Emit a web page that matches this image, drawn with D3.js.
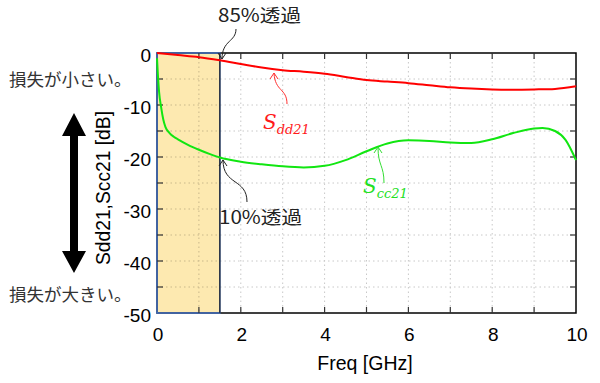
<!DOCTYPE html>
<html><head><meta charset="utf-8">
<script src="https://cdn.jsdelivr.net/npm/d3@7"></script>
<style>body{margin:0;background:#fff}svg{display:block}</style>
</head><body>
<svg id="c" width="600" height="383"></svg>
<script>
const xTicks = [0,2,4,6,8,10];
const yTicks = [0,-10,-20,-30,-40,-50];
const sddFreq = [0,0.5,1.0,1.5,2.0,2.5,3.0,3.5,4.0,4.5,5.0,5.5,6.0,6.5,7.0,7.5,8.0,8.5,9.0,9.5,10];
const sddVal  = [0,-0.4,-0.8,-1.4,-2.1,-2.8,-3.3,-3.6,-4.0,-4.6,-5.2,-5.5,-5.8,-6.2,-6.6,-6.85,-7.0,-7.05,-7.0,-6.9,-6.4];
const sccFreq = [0,0.02,0.05,0.1,0.15,0.2,0.3,0.4,0.5,0.75,1.0,1.25,1.5,2.0,2.5,3.0,3.5,4.0,4.5,5.0,5.5,6.0,6.5,7.0,7.5,8.0,8.5,9.0,9.2,9.5,9.75,10];
const sccVal  = [-1,-4,-7.5,-10.5,-12.8,-14.2,-15.4,-16.1,-16.6,-17.7,-18.6,-19.4,-20.1,-20.9,-21.4,-21.8,-22.0,-21.7,-20.6,-18.9,-17.4,-16.8,-16.9,-17.2,-17.3,-16.6,-15.4,-14.5,-14.4,-15.0,-16.7,-20.6];
const bandEnd = 1.5;

const svg = d3.select("#c");
const L=157,R=576,T=53,B=313;
const x = d3.scaleLinear().domain([0,10]).range([L,R]);
const y = d3.scaleLinear().domain([-50,0]).range([B,T]);

// grid
const g = svg.append("g");
d3.range(1,10).forEach(v=>g.append("line").attr("x1",x(v)).attr("x2",x(v)).attr("y1",T).attr("y2",B)
  .attr("stroke","#c8c8c8").attr("stroke-dasharray","1.5,3"));
d3.range(-45,0,5).forEach(v=>g.append("line").attr("y1",y(v)).attr("y2",y(v)).attr("x1",L).attr("x2",R)
  .attr("stroke","#c8c8c8").attr("stroke-dasharray","1.5,3"));

// band
svg.append("rect").attr("x",x(0)).attr("y",T).attr("width",x(bandEnd)-x(0)).attr("height",B-T)
  .attr("fill","#fde9b0");
d3.range(1,2).forEach(v=>svg.append("line").attr("x1",x(v)).attr("x2",x(v)).attr("y1",T).attr("y2",B)
  .attr("stroke","#c9b98a").attr("stroke-dasharray","1.5,3"));
d3.range(-45,0,5).forEach(v=>svg.append("line").attr("y1",y(v)).attr("y2",y(v)).attr("x1",L).attr("x2",x(bandEnd))
  .attr("stroke","#c9b98a").attr("stroke-dasharray","1.5,3"));

// frame
svg.append("rect").attr("x",L).attr("y",T).attr("width",R-L).attr("height",B-T)
  .attr("fill","none").attr("stroke","#000").attr("stroke-width",1.5);
svg.append("rect").attr("x",x(0)).attr("y",T).attr("width",x(bandEnd)-x(0)).attr("height",B-T)
  .attr("fill","none").attr("stroke","#4472c4").attr("stroke-width",1.5);
svg.append("line").attr("x1",x(bandEnd)).attr("x2",x(bandEnd)).attr("y1",T).attr("y2",B)
  .attr("stroke","#222").attr("stroke-width",1.2);

// ticks (inward)
const tk = svg.append("g").attr("stroke","#333").attr("stroke-width",1.2);
d3.range(1,10).forEach(v=>{
  tk.append("line").attr("x1",x(v)).attr("x2",x(v)).attr("y1",T).attr("y2",T+6);
  tk.append("line").attr("x1",x(v)).attr("x2",x(v)).attr("y1",B).attr("y2",B-6);
});
d3.range(-45,0,5).forEach(v=>{
  tk.append("line").attr("x1",R).attr("x2",R-6).attr("y1",y(v)).attr("y2",y(v));
  tk.append("line").attr("x1",L).attr("x2",L+6).attr("y1",y(v)).attr("y2",y(v));
});

// tick labels
const fnt = "'Liberation Sans', Arial, sans-serif";
xTicks.forEach(v=>svg.append("text").attr("x",x(v)+1).attr("y",341).attr("text-anchor","middle")
  .attr("font-family",fnt).attr("font-size",19).attr("fill","#000").text(v));
yTicks.forEach(v=>svg.append("text").attr("x",151).attr("y",y(v)+8.5).attr("text-anchor","end")
  .attr("font-family",fnt).attr("font-size",19).attr("fill","#000").text(v));
svg.append("text").attr("x",365).attr("y",370).attr("text-anchor","middle")
  .attr("font-family",fnt).attr("font-size",19.5).text("Freq [GHz]");
svg.append("text").attr("transform","translate(110,188) rotate(-90)").attr("text-anchor","middle")
  .attr("font-family",fnt).attr("font-size",19.5).attr("textLength",154).attr("lengthAdjust","spacingAndGlyphs")
  .text("Sdd21,Scc21 [dB]");

// curves
const line = d3.line().x(d=>x(d[0])).y(d=>y(d[1])).curve(d3.curveMonotoneX);
svg.append("path").datum(sccFreq.map((f,i)=>[f,sccVal[i]])).attr("d",line)
  .attr("fill","none").attr("stroke","#11e611").attr("stroke-width",2);
svg.append("path").datum(sddFreq.map((f,i)=>[f,sddVal[i]])).attr("d",line)
  .attr("fill","none").attr("stroke","#ff0000").attr("stroke-width",2);

// annotations
const jp = "'Noto Sans CJK JP', sans-serif";
function arrow(d, tip, dir, col){
  svg.append("path").attr("d",d).attr("fill","none").attr("stroke",col).attr("stroke-width",1);
  const [tx,ty]=tip; const s = dir;
  svg.append("path").attr("d",`M${tx-4},${ty-6*s} L${tx},${ty} L${tx+4},${ty-6*s}`)
    .attr("fill","none").attr("stroke",col).attr("stroke-width",1);
}
svg.append("text").attr("x",218).attr("y",22).attr("font-family",jp).attr("font-size",18).attr("fill","#222")
  .attr("textLength",83).attr("lengthAdjust","spacingAndGlyphs").text("85%透過");
arrow("M236,29 C236,42 222,40 222,59", [222,59], 1, "#222");
svg.append("text").attr("x",219).attr("y",224).attr("font-family",jp).attr("font-size",18).attr("fill","#222")
  .attr("textLength",83).attr("lengthAdjust","spacingAndGlyphs").text("10%透過");
arrow("M247,202 C247,178 223,186 223,160", [223,160], -1, "#222");

svg.append("text").attr("x",9).attr("y",86).attr("font-family",jp).attr("font-size",17.5).attr("fill","#333").text("損失が小さい。");
svg.append("text").attr("x",9).attr("y",301).attr("font-family",jp).attr("font-size",17.5).attr("fill","#333").text("損失が大きい。");

// S labels
const serif = "'DejaVu Serif', 'Liberation Serif', serif";
function slab(xp,yp,sub,col){
  const t = svg.append("text").attr("x",xp).attr("y",yp).attr("font-family",serif).attr("font-style","italic").attr("fill",col);
  t.append("tspan").attr("font-size",20).text("S");
  t.append("tspan").attr("font-size",13).attr("dy",5).text(sub);
}
slab(263,129,"dd21","#ff1a1a");
arrow("M287,104 C287,88 275,92 274,73", [274,73], -1, "#ff3030");
slab(363,193,"cc21","#22e022");
arrow("M384,183 C384,165 378,166 378,147", [378,147], -1, "#33dd33");

// double arrow
svg.append("path").attr("d","M74,113 L86,136 L78,136 L78,251 L86,251 L74,273 L62,251 L70,251 L70,136 L62,136 Z").attr("fill","#000");
</script>
</body></html>
